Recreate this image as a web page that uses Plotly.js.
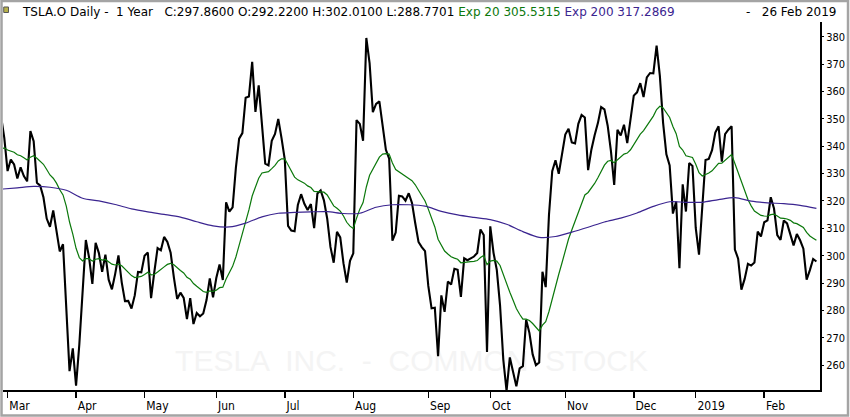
<!DOCTYPE html>
<html>
<head>
<meta charset="utf-8">
<script src="https://cdn.plot.ly/plotly-3.0.1.min.js"></script>
<style>
  html, body { margin: 0; padding: 0; background: #ffffff; }
  #chart { width: 850px; height: 417px; }
</style>
</head>
<body>
<div id="chart"></div>
<script>
// ---- Data (TSLA.O daily, 27 Feb 2018 – 26 Feb 2019) ----
const firstDay = '2018-02-27';
const lastDay = '2019-02-26';
const marketHolidays = ['2018-03-30', '2018-05-28', '2018-07-04', '2018-09-03', '2018-11-22',
  '2018-12-05', '2018-12-25', '2019-01-01', '2019-01-21', '2019-02-18'];

const closes = [
  350.99, 343.06, 330.93, 335.12, 333.35, 328.20, 332.30, 329.10, 327.17, 345.51,
  341.84, 326.63, 325.60, 321.35, 313.56, 310.55, 316.53, 309.10, 301.54, 304.18,
  279.18, 257.78, 266.13, 252.48, 267.53, 286.94, 305.72, 299.30, 289.66, 304.70,
  300.93, 294.08, 300.34, 291.21, 287.69, 293.35, 300.08, 290.24, 283.37, 283.46,
  280.69, 285.48, 294.08, 293.90, 299.92, 301.15, 284.45, 294.09, 302.77, 301.97,
  306.85, 305.02, 301.06, 291.97, 284.18, 286.48, 284.54, 276.82, 284.49, 275.01,
  279.07, 277.85, 278.85, 283.76, 291.72, 284.73, 291.82, 296.74, 291.13, 319.50,
  316.09, 317.66, 332.10, 342.77, 344.78, 357.72, 358.17, 370.83, 352.55, 362.22,
  347.51, 333.63, 333.01, 342.00, 344.50, 349.93, 342.95, 335.07, 310.86, 309.16,
  308.90, 318.51, 322.47, 318.96, 316.71, 318.87, 310.10, 322.69, 323.85, 320.23,
  313.58, 303.20, 297.43, 308.74, 306.65, 297.18, 290.17, 298.14, 300.84, 349.54,
  348.17, 341.99, 379.57, 370.34, 352.45, 355.49, 356.41, 347.64, 338.69, 335.45,
  305.50, 308.44, 321.90, 321.64, 320.10, 322.82, 319.27, 311.86, 305.01, 303.15,
  301.66, 288.95, 280.74, 280.95, 263.24, 285.50, 279.44, 290.54, 289.46, 295.20,
  294.84, 284.96, 299.02, 298.33, 299.10, 299.68, 300.99, 309.58, 307.52, 264.77,
  310.70, 301.02, 294.80, 281.83, 261.95, 250.56, 262.80, 256.88, 252.23, 258.78,
  259.59, 276.59, 271.78, 263.91, 260.00, 260.95, 294.14, 288.50, 314.86, 330.90,
  334.85, 329.90, 337.32, 344.28, 346.41, 341.40, 341.06, 348.16, 351.40, 350.51,
  331.28, 338.73, 344.00, 348.44, 354.31, 353.47, 347.49, 338.19, 325.83, 346.00,
  343.92, 347.87, 341.17, 350.48, 358.49, 359.70, 363.06, 357.97, 365.15, 366.76,
  366.60, 376.79, 365.71, 348.42, 337.03, 332.97, 315.38, 319.77, 295.39, 326.09,
  316.13, 333.87, 332.80, 310.12, 300.36, 317.69, 334.96, 335.35, 338.53, 344.97,
  347.26, 334.40, 344.43, 346.05, 347.31, 302.26, 298.92, 287.59, 291.51, 297.04,
  296.38, 297.46, 308.77, 307.02, 312.21, 312.89, 321.35, 317.22, 307.51, 305.80,
  312.84, 311.81, 308.17, 303.77, 307.88, 305.62, 302.56, 291.23, 294.71, 298.77,
  297.86
];

const exp20 = [
  339.0, 339.4, 338.6, 338.3, 337.8, 336.9, 336.5, 335.8, 335.0, 336.0,
  336.5, 335.6, 334.6, 333.4, 331.5, 329.5, 328.3, 326.5, 324.1, 322.2,
  318.1, 312.3, 307.9, 302.7, 299.3, 298.1, 298.9, 298.9, 298.0, 298.7,
  298.9, 298.4, 298.6, 297.9, 296.9, 296.6, 296.9, 296.3, 295.1, 294.0,
  292.7, 292.0, 292.2, 292.4, 293.1, 293.9, 293.0, 293.1, 294.0, 294.8,
  295.9, 296.8, 297.2, 296.7, 295.5, 294.6, 293.7, 292.1, 291.4, 289.8,
  288.8, 287.8, 286.9, 286.6, 287.1, 286.9, 287.4, 288.3, 288.5, 291.5,
  293.8, 296.1, 299.5, 303.6, 307.6, 312.3, 316.7, 321.8, 324.8, 328.3,
  330.2, 330.5, 330.7, 331.8, 333.0, 334.6, 335.4, 335.4, 333.0, 330.8,
  328.7, 327.7, 327.2, 326.5, 325.5, 324.9, 323.5, 323.4, 323.5, 323.2,
  322.2, 320.4, 318.2, 317.3, 316.3, 314.5, 312.2, 310.8, 309.9, 313.7,
  317.0, 319.4, 325.1, 329.4, 331.6, 333.9, 336.0, 337.1, 337.3, 337.1,
  333.9, 331.5, 330.6, 329.7, 328.8, 328.2, 327.4, 325.9, 323.9, 321.9,
  320.0, 317.0, 313.6, 310.5, 306.0, 304.0, 301.7, 300.6, 299.6, 299.1,
  298.7, 297.4, 297.6, 297.6, 297.8, 297.9, 298.2, 299.3, 300.1, 296.7,
  298.0, 298.3, 298.0, 296.4, 293.1, 289.1, 286.6, 283.7, 280.7, 278.6,
  276.8, 276.8, 276.3, 275.2, 273.7, 272.5, 274.6, 275.9, 279.6, 284.5,
  289.3, 293.2, 297.4, 301.8, 306.1, 309.4, 312.5, 315.9, 319.2, 322.2,
  323.1, 324.6, 326.4, 328.5, 331.0, 333.1, 334.5, 334.8, 334.0, 335.1,
  336.0, 337.1, 337.5, 338.7, 340.6, 342.4, 344.4, 345.7, 347.5, 349.3,
  351.0, 353.4, 354.6, 354.0, 352.4, 350.5, 347.2, 344.6, 339.9, 338.6,
  336.5, 336.2, 335.9, 333.4, 330.3, 329.1, 329.6, 330.2, 331.0, 332.3,
  333.7, 333.8, 334.8, 335.9, 337.0, 333.7, 330.4, 326.3, 323.0, 320.5,
  318.2, 316.3, 315.5, 314.7, 314.5, 314.4, 315.0, 315.2, 314.5, 313.7,
  313.6, 313.4, 312.9, 312.0, 311.7, 311.1, 310.3, 308.5, 307.2, 306.4,
  305.6
];

const exp200Dates = [
  '2018-02-27', '2018-03-06', '2018-03-13', '2018-03-20', '2018-03-27', '2018-04-04',
  '2018-04-11', '2018-04-18', '2018-04-25', '2018-05-02', '2018-05-09', '2018-05-16',
  '2018-05-23', '2018-05-31', '2018-06-07', '2018-06-14', '2018-06-21', '2018-06-28',
  '2018-07-06', '2018-07-13', '2018-07-20', '2018-07-27', '2018-08-03', '2018-08-10',
  '2018-08-17', '2018-08-24', '2018-08-31', '2018-09-10', '2018-09-17', '2018-09-24',
  '2018-10-01', '2018-10-08', '2018-10-15', '2018-10-22', '2018-10-29', '2018-11-05',
  '2018-11-12', '2018-11-19', '2018-11-27', '2018-12-04', '2018-12-12', '2018-12-19',
  '2018-12-27', '2019-01-04', '2019-01-11', '2019-01-18', '2019-01-28', '2019-02-04',
  '2019-02-11', '2019-02-19', '2019-02-26'
];
const exp200 = [
  324.3, 324.8, 325.3, 325.0, 323.9, 321.0, 320.0, 318.7, 317.1, 316.0, 315.1, 314.1,
  312.4, 310.9, 310.5, 311.9, 314.2, 315.5, 315.8, 316.0, 316.1, 315.4, 315.5, 317.7,
  318.6, 318.6, 318.1, 316.2, 314.9, 314.0, 313.2, 311.5, 308.8, 306.7, 307.0, 308.6,
  310.4, 312.3, 313.7, 315.6, 318.0, 319.7, 319.5, 319.5, 320.5, 321.2, 319.9, 319.3,
  319.0, 318.4, 317.3
];

const monthTickDates = ['2018-03-01', '2018-04-02', '2018-05-01', '2018-06-01', '2018-07-02',
  '2018-08-01', '2018-09-04', '2018-10-01', '2018-11-01', '2018-12-03', '2019-01-02', '2019-02-01'];
const monthTickLabels = ['Mar', 'Apr', 'May', 'Jun', 'Jul', 'Aug', 'Sep', 'Oct', 'Nov', 'Dec', '2019', 'Feb'];
const priceTicks = [260, 270, 280, 290, 300, 310, 320, 330, 340, 350, 360, 370, 380];

const headerInfo = { symbol: 'TSLA.O', period: 'Daily', span: '1 Year',
  C: '297.8600', O: '292.2200', H: '302.0100', L: '288.7701',
  exp20Label: 'Exp 20', exp20Last: '305.5315', exp200Label: 'Exp 200', exp200Last: '317.2869',
  date: '26 Feb 2019' };
const watermark = 'TESLA  INC.  -  COMMON  STOCK';

// ---- trading calendar (weekdays minus exchange holidays) ----
function tradingDays(start, end, skip) {
  const out = [];
  const d = new Date(start + 'T00:00:00Z');
  const e = new Date(end + 'T00:00:00Z');
  while (d <= e) {
    const wd = d.getUTCDay();
    const s = d.toISOString().slice(0, 10);
    if (wd !== 0 && wd !== 6 && skip.indexOf(s) < 0) out.push(s);
    d.setUTCDate(d.getUTCDate() + 1);
  }
  return out;
}
const dates = tradingDays(firstDay, lastDay, marketHolidays);

const GREEN = '#0b780b';
const PURPLE = '#3b2590';
const NB = '\u00a0';

const traces = [
  { x: dates, y: closes, type: 'scatter', mode: 'lines',
    line: { color: '#000000', width: 2.1 }, hoverinfo: 'skip' },
  { x: dates, y: exp20, type: 'scatter', mode: 'lines',
    line: { color: GREEN, width: 1.2 }, hoverinfo: 'skip' },
  { x: exp200Dates, y: exp200, type: 'scatter', mode: 'lines',
    line: { color: PURPLE, width: 1.2, shape: 'spline', smoothing: 0.8 }, hoverinfo: 'skip' }
];

const headerText =
  headerInfo.symbol + ' ' + headerInfo.period + ' -' + NB + ' ' + headerInfo.span + NB + NB + ' ' +
  'C:' + headerInfo.C + ' O:' + headerInfo.O + ' H:' + headerInfo.H + ' L:' + headerInfo.L + ' ' +
  '<span style="color:' + GREEN + '">' + headerInfo.exp20Label + ' ' + headerInfo.exp20Last + '</span> ' +
  '<span style="color:' + PURPLE + '">' + headerInfo.exp200Label + ' ' + headerInfo.exp200Last + '</span>';

const layout = {
  width: 850, height: 417,
  margin: { l: 3, r: 30, t: 22, b: 27, pad: 0 },
  paper_bgcolor: '#ffffff', plot_bgcolor: '#ffffff',
  showlegend: false,
  font: { family: 'DejaVu Sans, sans-serif', color: '#000000' },
  xaxis: {
    type: 'category',
    range: [0.6, 251.1],
    tickmode: 'array', tickvals: monthTickDates, ticktext: monthTickLabels,
    ticks: 'outside', ticklen: 6, tickwidth: 1.5, tickcolor: '#000000',
    ticklabelposition: 'outside right',
    ticklabelstandoff: 4,
    tickfont: { family: 'DejaVu Sans Condensed, Liberation Sans Narrow, Arial Narrow, sans-serif', size: 12, color: '#000000' },
    showline: true, linecolor: '#000000', linewidth: 2,
    showgrid: false, zeroline: false, fixedrange: true
  },
  yaxis: {
    side: 'right',
    range: [250.9, 385.4],
    tickmode: 'array', tickvals: priceTicks,
    ticks: 'outside', ticklen: 2, tickwidth: 1, tickcolor: '#000000',
    tickfont: { family: 'DejaVu Sans Condensed, Liberation Sans Narrow, sans-serif', size: 11, color: '#000000' },
    showline: true, linecolor: '#000000', linewidth: 2,
    showgrid: false, zeroline: false, fixedrange: true
  },
  shapes: [
    { type: 'rect', xref: 'paper', yref: 'paper', x0: 0.2, x1: 0.8, y0: 0.03, y1: 0.145,
      layer: 'below', line: { width: 0 }, fillcolor: 'rgba(0,0,0,0)',
      label: { text: watermark, textposition: 'middle center',
        font: { family: 'Liberation Sans, Arial, sans-serif', size: 30, color: '#f4f4f4' } } },
    { type: 'rect', xref: 'paper', yref: 'paper', x0: -0.0018, x1: 1.0343, y0: -0.0693, y1: 1.0571,
      layer: 'above', line: { color: '#a4a4a4', width: 2.5 }, fillcolor: 'rgba(0,0,0,0)' },
    { type: 'rect', xref: 'paper', yref: 'paper', x0: 0.0009, x1: 0.0067, y0: 1.0258, y1: 1.0408,
      layer: 'above', line: { color: '#555555', width: 1 }, fillcolor: '#b8b24a' }
  ],
  annotations: [
    { xref: 'paper', yref: 'paper', x: 0.0208, y: 1.0272, xanchor: 'left', yanchor: 'middle',
      showarrow: false, text: headerText,
      font: { family: 'DejaVu Sans, sans-serif', size: 12, color: '#000000' } },
    { xref: 'paper', yref: 'paper', x: 1.022, y: 1.0272, xanchor: 'right', yanchor: 'middle',
      showarrow: false, text: '-' + NB + NB + ' ' + headerInfo.date,
      font: { family: 'DejaVu Sans, sans-serif', size: 12, color: '#000000' } }
  ]
};

Plotly.newPlot('chart', traces, layout, { staticPlot: true, displayModeBar: false });
</script>
</body>
</html>
